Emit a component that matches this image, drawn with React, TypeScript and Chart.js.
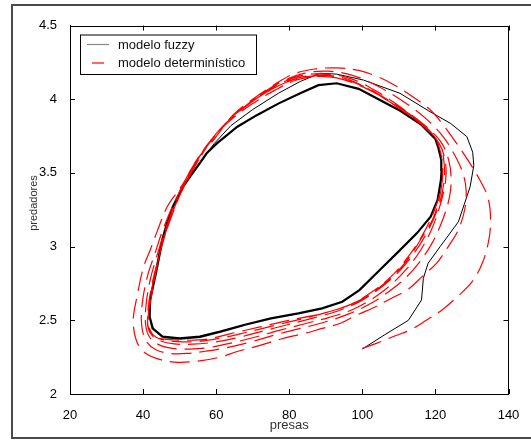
import React, { useEffect, useRef } from 'react';
import { Chart, registerables } from 'chart.js';

Chart.register(...registerables);

// ---- data ----
const seriesLabels = ['modelo fuzzy', 'modelo determinístico'];
const xTitle = 'presas';
const yTitle = 'predadores';
const xTicks = [20, 40, 60, 80, 100, 120, 140];
const yTicks = [2, 2.5, 3, 3.5, 4, 4.5];

// fuzzy model: transient part
const fuzzyTransX = [100, 106, 112.6, 116.2, 116.7, 118, 121.3, 126.3, 129.5, 130.5, 130.2, 128.6, 124.2, 118.2, 110.3, 100.3, 93, 88.4, 83, 77, 70, 64, 59.5, 57.4];
const fuzzyTransY = [2.305, 2.4, 2.5, 2.638, 2.785, 2.887, 3.0, 3.169, 3.406, 3.55, 3.64, 3.746, 3.835, 3.92, 4.04, 4.13, 4.17, 4.176, 4.12, 4.04, 3.93, 3.82, 3.7, 3.633];
// fuzzy model: limit cycle laps
const fuzzyCycleX = [55.5, 53, 50.9, 48.1, 46.5, 45.3, 43.5, 41.9, 41.8, 42.6, 45.3, 50, 55.5, 61.1, 67.6, 75, 82.5, 89, 94.5, 99.2, 103.8, 109.4, 114.9, 118.7, 120.6, 121.5, 121.7, 121.6, 120.8, 120, 116, 110.5, 104.8, 99, 93, 88, 83, 77, 71, 65.8, 60.2, 57.4, 55.4, 52.9, 50.8, 48.1, 46.4, 45.2, 43.4, 41.9, 41.8, 42.7, 45.4, 50.1, 55.6, 61.2, 67.5];
const fuzzyCycleY = [3.564, 3.48, 3.406, 3.27, 3.15, 3.044, 2.818, 2.637, 2.524, 2.445, 2.389, 2.377, 2.389, 2.423, 2.468, 2.513, 2.547, 2.581, 2.626, 2.705, 2.818, 2.954, 3.09, 3.203, 3.316, 3.45, 3.52, 3.587, 3.67, 3.73, 3.83, 3.92, 3.995, 4.07, 4.108, 4.095, 4.04, 3.97, 3.89, 3.813, 3.7, 3.633, 3.562, 3.478, 3.404, 3.268, 3.148, 3.042, 2.816, 2.635, 2.522, 2.443, 2.387, 2.376, 2.388, 2.422, 2.466];

// deterministic model: spiral converging inward
const determX = [
  100, 104, 109, 113.2, 117.5, 121.8, 126, 130, 132.7, 134.5, 135.1, 134.4, 132.2, 128.8, 125.8, 122, 118.5, 113, 108.5, 104, 99, 93, 87, 81, 76, 70, 64.5, 59.5, 55, 50.5, 46.6, 43.8, 42, 40.1, 38.5, 37.3, 38.2, 40.5, 44.5, 49.5, 55.5, 61, 66, 72, 78, 84, 89, 94, 98, 103, 108, 112.5, 116.5, 120.4, 123.5, 126.2,
  128, 128.4, 127.5, 125.3, 122.3, 117.8, 111.5, 104.5, 97.5, 90.5, 84, 78, 71.5, 65.5, 60, 55.8, 51.5, 48, 45.2, 43.2, 41.2, 39.8, 39.6, 40.8, 43.5, 47.5, 52, 57, 62, 69, 76, 83, 90, 96.5, 102, 107, 111.5, 115.5, 119, 121.8,
  123.8, 124.3, 123.6, 121.5, 117.2, 110.8, 103.8, 96.8, 89.5, 83, 77, 70.5, 64.5, 59.5, 55.5, 51.5, 48.2, 45.6, 43.7, 41.9, 40.8, 40.7, 41.8, 44.3, 48, 53, 58, 64, 70.5, 77, 84, 91, 97.5, 103, 107.8, 112, 115.8, 119, 121.4,
  122.8, 122.7, 121, 117, 110.5, 103, 96, 89, 82.5, 76.5, 70.2, 64.2, 59, 55, 51, 48, 45.8, 44, 42.4, 41.4, 41.3, 42.4, 44.8, 48.5, 53.5, 59, 65.5, 72.5, 79.5, 86.5, 93.5, 99.5, 105, 110, 114.3, 118, 120.8, 122.3,
  122.4, 121.4, 118.5, 113.5, 107, 100, 93, 87, 81, 75, 69, 63.5, 58.5, 54.5, 50.8, 47.7, 45.4, 43.8, 42.4, 41.5, 41.5, 42.6, 45, 49.5, 55, 61.5, 68.5, 76, 83.5, 90.5, 97, 102.5, 108, 112.5, 116.5, 119.6, 121.6,
  122, 121.2, 119, 114.5, 108, 101, 94, 88, 82, 76, 70, 64, 58.5, 54, 50.3, 47.3, 45, 43.3, 42, 41.2, 41.8, 43.5, 46.5, 51, 57, 64, 72, 80, 88, 95, 101, 107, 112, 116, 119.5, 121.5, 122
];
const determY = [
  2.31, 2.345, 2.395, 2.435, 2.5, 2.57, 2.66, 2.76, 2.88, 3.03, 3.18, 3.33, 3.45, 3.59, 3.7, 3.83, 3.93, 4.03, 4.1, 4.155, 4.195, 4.212, 4.205, 4.17, 4.1, 4.0, 3.89, 3.73, 3.6, 3.41, 3.27, 3.1, 2.98, 2.86, 2.68, 2.5, 2.36, 2.28, 2.235, 2.215, 2.225, 2.25, 2.29, 2.33, 2.375, 2.41, 2.445, 2.48, 2.53, 2.585, 2.65, 2.71, 2.8, 2.89, 3.0, 3.11,
  3.25, 3.38, 3.5, 3.62, 3.74, 3.86, 3.98, 4.085, 4.16, 4.19, 4.175, 4.12, 4.02, 3.9, 3.76, 3.62, 3.44, 3.27, 3.1, 2.95, 2.8, 2.62, 2.47, 2.36, 2.3, 2.275, 2.275, 2.29, 2.31, 2.35, 2.4, 2.445, 2.49, 2.545, 2.61, 2.69, 2.78, 2.89, 3.02, 3.17,
  3.33, 3.46, 3.59, 3.71, 3.82, 3.94, 4.055, 4.14, 4.172, 4.158, 4.1, 4.0, 3.88, 3.75, 3.6, 3.42, 3.25, 3.08, 2.93, 2.77, 2.6, 2.47, 2.385, 2.335, 2.31, 2.305, 2.315, 2.345, 2.385, 2.43, 2.475, 2.52, 2.575, 2.65, 2.74, 2.845, 2.97, 3.12, 3.29,
  3.45, 3.58, 3.7, 3.81, 3.93, 4.05, 4.135, 4.163, 4.145, 4.085, 3.99, 3.87, 3.73, 3.58, 3.4, 3.22, 3.06, 2.9, 2.74, 2.58, 2.47, 2.4, 2.36, 2.34, 2.338, 2.35, 2.38, 2.425, 2.47, 2.515, 2.565, 2.63, 2.72, 2.83, 2.96, 3.11, 3.27, 3.43,
  3.56, 3.68, 3.78, 3.885, 3.99, 4.085, 4.145, 4.158, 4.13, 4.065, 3.97, 3.86, 3.72, 3.57, 3.39, 3.21, 3.03, 2.87, 2.71, 2.56, 2.47, 2.405, 2.37, 2.355, 2.356, 2.38, 2.42, 2.465, 2.51, 2.555, 2.61, 2.69, 2.8, 2.93, 3.08, 3.24, 3.4,
  3.52, 3.66, 3.77, 3.87, 3.98, 4.08, 4.14, 4.155, 4.13, 4.06, 3.97, 3.86, 3.72, 3.56, 3.39, 3.2, 3.0, 2.8, 2.62, 2.5, 2.42, 2.385, 2.37, 2.365, 2.37, 2.41, 2.455, 2.5, 2.54, 2.59, 2.66, 2.77, 2.9, 3.05, 3.2, 3.38, 3.52
];

const FONT = '"Liberation Sans", Arial, sans-serif';

const decorPlugin = {
  id: 'decor',
  beforeDraw(chart: any) {
    const ctx = chart.ctx;
    ctx.save();
    ctx.fillStyle = '#fff';
    ctx.fillRect(0, 0, chart.width, chart.height);
    ctx.strokeStyle = '#4a4a4a';
    ctx.lineWidth = 2;
    ctx.beginPath();
    ctx.moveTo(540, 5);
    ctx.lineTo(12, 5);
    ctx.lineTo(12, 438);
    ctx.lineTo(540, 438);
    ctx.stroke();
    ctx.restore();
  },
  afterDraw(chart: any) {
    const ctx = chart.ctx;
    const a = chart.chartArea;
    const xs = chart.scales.x;
    const ys = chart.scales.y;
    ctx.save();
    ctx.strokeStyle = '#000';
    ctx.lineWidth = 1;
    ctx.beginPath();
    ctx.moveTo(Math.round(a.left) + 0.5, Math.round(a.top) + 0.5);
    ctx.lineTo(Math.round(a.right) - 0.5, Math.round(a.top) + 0.5);
    ctx.lineTo(Math.round(a.right) - 0.5, Math.round(a.bottom) + 0.5);
    ctx.stroke();
    ctx.beginPath();
    const tl = 5;
    xTicks.forEach((v) => {
      const px = Math.round(xs.getPixelForValue(v)) + 0.5;
      ctx.moveTo(px, a.bottom);
      ctx.lineTo(px, a.bottom - tl);
      ctx.moveTo(px, a.top);
      ctx.lineTo(px, a.top + tl);
    });
    yTicks.forEach((v) => {
      const py = Math.round(ys.getPixelForValue(v)) + 0.5;
      ctx.moveTo(a.left, py);
      ctx.lineTo(a.left + tl, py);
      ctx.moveTo(a.right, py);
      ctx.lineTo(a.right - tl, py);
    });
    ctx.stroke();

    ctx.fillStyle = '#333';
    ctx.font = `13px ${FONT}`;
    ctx.textAlign = 'center';
    ctx.textBaseline = 'middle';
    ctx.fillText(xTitle, (a.left + a.right) / 2, 425);
    ctx.save();
    ctx.translate(34, 203);
    ctx.rotate(-Math.PI / 2);
    ctx.font = `11px ${FONT}`;
    ctx.fillText(yTitle, 0, 0);
    ctx.restore();

    const bx = 80.5, by = 35, bw = 176, bh = 39.5;
    ctx.fillStyle = '#fff';
    ctx.fillRect(bx, by, bw, bh);
    ctx.strokeStyle = '#000';
    ctx.lineWidth = 1;
    ctx.strokeRect(bx, by, bw, bh);
    ctx.lineWidth = 1.2;
    ctx.strokeStyle = '#888';
    ctx.beginPath();
    ctx.moveTo(87, 44.5);
    ctx.lineTo(109, 44.5);
    ctx.stroke();
    ctx.strokeStyle = '#ff0000';
    ctx.beginPath();
    ctx.moveTo(92, 63);
    ctx.lineTo(104, 63);
    ctx.stroke();
    ctx.fillStyle = '#111';
    ctx.font = `13px ${FONT}`;
    ctx.textAlign = 'left';
    ctx.textBaseline = 'middle';
    ctx.fillText(seriesLabels[0], 118, 45);
    ctx.fillText(seriesLabels[1], 118, 63);
    ctx.restore();
  },
};

export default function App() {
  const ref = useRef<HTMLCanvasElement | null>(null);
  useEffect(() => {
    document.body.style.margin = '0';
    const canvas = ref.current;
    if (!canvas) return;
    const transLen = fuzzyTransX.length;
    const fuzzyPts = [
      ...fuzzyTransX.map((x, i) => ({ x, y: fuzzyTransY[i] })),
      ...fuzzyCycleX.map((x, i) => ({ x, y: fuzzyCycleY[i] })),
    ];
    const determPts = determX.map((x, i) => ({ x, y: determY[i] }));
    const chart = new Chart(canvas, {
      type: 'line',
      data: {
        datasets: [
          {
            label: seriesLabels[1],
            data: determPts,
            borderColor: '#ff0000',
            borderWidth: 1.2,
            borderDash: [20, 8],
            pointRadius: 0,
            tension: 0.35,
            fill: false,
          },
          {
            label: seriesLabels[0],
            data: fuzzyPts,
            borderColor: '#000',
            borderWidth: 1,
            pointRadius: 0,
            tension: 0,
            fill: false,
            segment: {
              borderWidth: (c: any) => (c.p0DataIndex >= transLen - 1 ? 2.2 : 1),
            },
          },
        ],
      },
      options: {
        animation: false,
        responsive: false,
        devicePixelRatio: 1,
        layout: { padding: { top: 25.5, right: 22.5, left: 0, bottom: 0 } },
        plugins: { legend: { display: false }, tooltip: { enabled: false } },
        scales: {
          x: {
            type: 'linear',
            min: 20,
            max: 140,
            grid: { display: false },
            border: { display: true, color: '#000', width: 1 },
            ticks: {
              stepSize: 20,
              color: '#000',
              padding: 6,
              font: { family: FONT, size: 13 },
              maxRotation: 0,
              callback: (v: any) => String(Number(v)),
            },
            afterFit: (s: any) => {
              s.height = 46;
            },
          },
          y: {
            type: 'linear',
            min: 2,
            max: 4.5,
            grid: { display: false },
            border: { display: true, color: '#000', width: 1 },
            ticks: {
              stepSize: 0.5,
              color: '#000',
              padding: 5,
              font: { family: FONT, size: 13 },
              callback: (v: any) => String(Number(v)),
            },
            afterFit: (s: any) => {
              s.width = 70;
            },
          },
        },
      },
      plugins: [decorPlugin],
    });
    return () => chart.destroy();
  }, []);
  return (
    <div style={{ position: 'absolute', left: 0, top: 0, width: 531, height: 440 }}>
      <canvas ref={ref} width={531} height={440} style={{ display: 'block' }} />
    </div>
  );
}
